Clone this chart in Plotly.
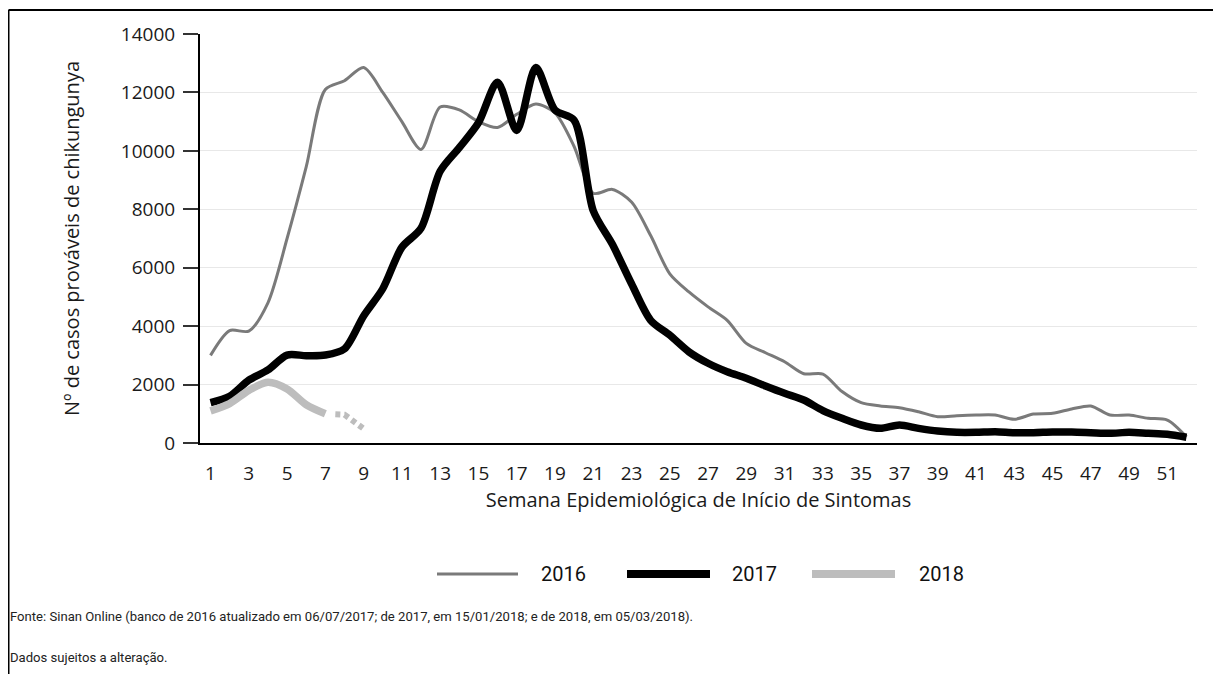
import plotly.graph_objects as go

weeks = list(range(1, 53))
cases_2016 = [3000, 3850, 3830, 4800, 7000, 9450, 12100, 12400, 12850, 12000,
              11000, 10050, 11500, 11400, 11000, 10800, 11250, 11600, 11300, 10150,
              8550, 8680, 8250, 7100, 5790, 5170, 4660, 4200, 3410, 3090,
              2780, 2370, 2360, 1760, 1380, 1270, 1210, 1070, 900, 935,
              958, 958, 810, 990, 1016, 1164, 1266, 958, 958, 845,
              785, 210]
cases_2017 = [1380, 1600, 2150, 2500, 3010, 2990, 3010, 3220, 4350, 5280,
              6700, 7350, 9300, 10110, 10960, 12350, 10700, 12850, 11400, 11050,
              7950, 6800, 5450, 4200, 3690, 3120, 2730, 2440, 2215, 1950,
              1700, 1472, 1110, 845, 616, 502, 616, 502, 410, 364,
              364, 387, 353, 353, 375, 375, 353, 330, 364, 330,
              296, 195]
weeks_2018 = [1, 2, 3, 4, 5, 6, 7]
cases_2018 = [1100, 1350, 1800, 2080, 1850, 1310, 1000]
weeks_2018_prelim = [7, 8, 9]
cases_2018_prelim = [1000, 970, 490]

years = ["2016", "2017", "2018"]
tick_weeks = list(range(1, 52, 2))
y_ticks = list(range(0, 14001, 2000))
x_title = "Semana Epidemiológica de Início de Sintomas"
y_title = "Nº de casos prováveis de chikungunya"

FONT = "Open Sans, Noto Sans, sans-serif"
NARROW = "Roboto, Open Sans, sans-serif"
C16, C17, C18 = "#7a7a7a", "#000000", "#bdbdbd"

fig = go.Figure()
fig.add_trace(go.Scatter(x=weeks, y=cases_2016, mode="lines", name=years[0],
                         line=dict(color=C16, width=3, shape="spline", smoothing=0.8)))
fig.add_trace(go.Scatter(x=weeks, y=cases_2017, mode="lines", name=years[1],
                         line=dict(color=C17, width=7.5, shape="spline", smoothing=0.8)))
fig.add_trace(go.Scatter(x=weeks_2018, y=cases_2018, mode="lines", name=years[2],
                         line=dict(color=C18, width=7.5, shape="spline", smoothing=0.8)))
fig.add_trace(go.Scatter(x=weeks_2018_prelim, y=cases_2018_prelim, mode="lines",
                         name=years[2] + " (preliminar)", showlegend=False,
                         line=dict(color=C18, width=6,
                                   dash="0px,10px,5px,4px,5px,4px,5px,4px,5px,40px")))

W, H = 1221, 674
OFF = 8  # page body margin in the browser
L, T = 200 - OFF, 34 - OFF
pw, ph = 997, 409
R, B = W - L - pw, H - T - ph


def px(x):
    # x in screen pixels -> paper coordinate
    return (x - OFF - L) / pw


def py(y):
    return (H - B - (y - OFF)) / ph


shapes = [
    dict(type="line", xref="paper", yref="paper", x0=px(8.5), x1=px(1240), y0=py(10), y1=py(10),
         line=dict(color="#000", width=2)),
    dict(type="line", xref="paper", yref="paper", x0=px(8.5), x1=px(8.5), y0=py(10), y1=py(700),
         line=dict(color="#000", width=2)),
]
annotations = []
legend_items = [(years[0], C16, 3, 437, 518, 539),
                (years[1], C17, 8, 627, 710, 730),
                (years[2], C18, 8, 812, 895, 917)]
for name, col, wd, x0, x1, tx in legend_items:
    shapes.append(dict(type="line", xref="paper", yref="paper", x0=px(x0), x1=px(x1),
                       y0=py(574), y1=py(574), line=dict(color=col, width=wd)))
    annotations.append(dict(text=name, xref="paper", yref="paper", x=px(tx), y=py(574),
                            xanchor="left", yanchor="middle", showarrow=False,
                            font=dict(family=NARROW, size=20, color="#111")))

annotations.append(dict(
    text="Fonte: Sinan Online (banco de 2016 atualizado em 06/07/2017; de 2017, em 15/01/2018; e de 2018, em 05/03/2018).",
    xref="paper", yref="paper", x=px(8), y=py(616), xanchor="left", yanchor="middle",
    showarrow=False, font=dict(family=NARROW, size=13.1, color="#222")))
annotations.append(dict(
    text="Dados sujeitos a alteração.",
    xref="paper", yref="paper", x=px(8), y=py(657), xanchor="left", yanchor="middle",
    showarrow=False, font=dict(family=NARROW, size=13.1, color="#222")))

fig.update_layout(
    width=W, height=H,
    margin=dict(l=L, r=R, t=T, b=B, autoexpand=False),
    paper_bgcolor="white", plot_bgcolor="white",
    showlegend=False,
    font=dict(family=FONT, size=19, color="#1a1a1a"),
    shapes=shapes, annotations=annotations,
    xaxis=dict(range=[0.45, 52.55], tickmode="array", tickvals=tick_weeks,
               ticktext=[str(t) for t in tick_weeks], showgrid=False, zeroline=False,
               showline=True, linecolor="#000", linewidth=2, ticks="",
               ticklabelstandoff=12,
               tickfont=dict(family=FONT, size=19, color="#1a1a1a"),
               title=dict(text=x_title,
                          font=dict(family=FONT, size=20, color="#1a1a1a"), standoff=0)),
    yaxis=dict(range=[0, 14000], tickmode="array", tickvals=y_ticks,
               ticktext=[str(v) for v in y_ticks], showgrid=True, gridcolor="#e8e8e8",
               gridwidth=1, zeroline=False, showline=True, linecolor="#000", linewidth=2,
               ticks="outside", ticklen=15, tickwidth=1.5, tickcolor="#333",
               ticklabelstandoff=4,
               tickfont=dict(family=FONT, size=19, color="#1a1a1a"),
               title=dict(text=y_title,
                          font=dict(family=FONT, size=20, color="#1a1a1a"), standoff=36)),
)

fig.write_html("out.html")
